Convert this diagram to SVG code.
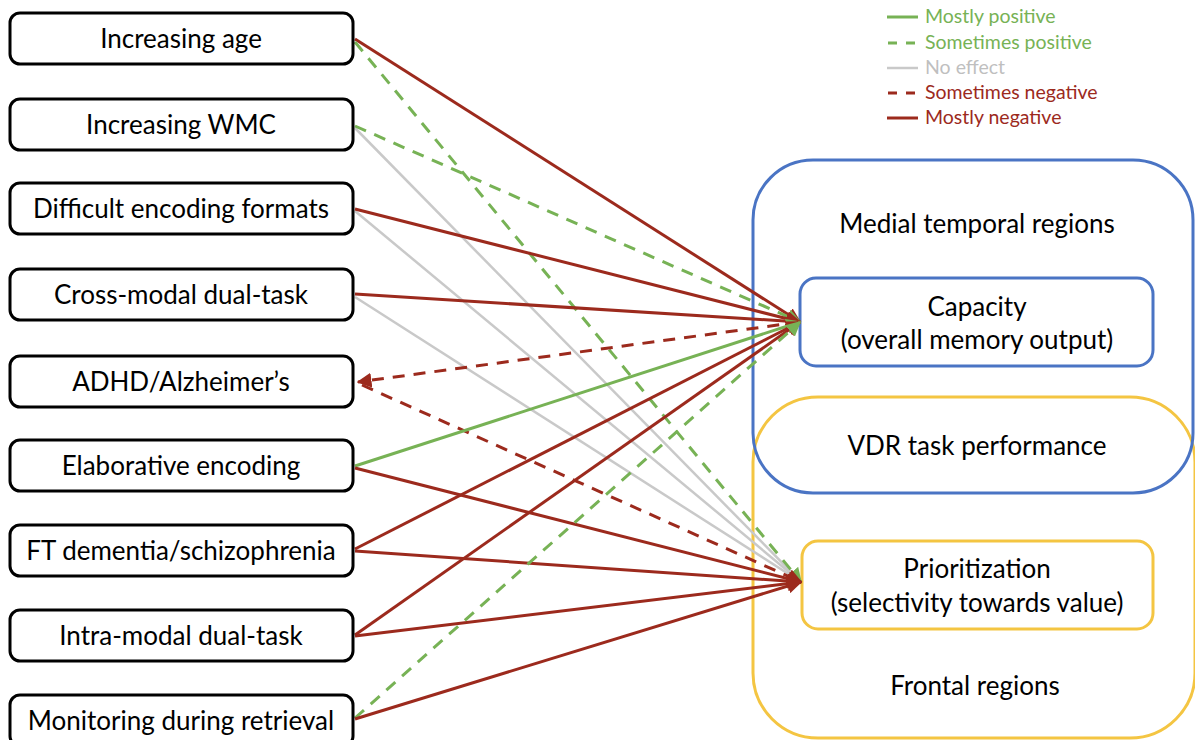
<svg xmlns="http://www.w3.org/2000/svg" width="1195" height="740" viewBox="0 0 1195 740">
<defs>
<style>
.box{fill:#fff;stroke:#000;stroke-width:3}
.t{font-family:Lato,"Open Sans","Liberation Sans",sans-serif;font-size:26px;fill:#000;text-anchor:middle}
.lg{font-family:Lato,"Open Sans","Liberation Sans",sans-serif;font-size:19.5px}
.red{stroke:#9C2A1D;stroke-width:3;fill:none}
.grn{stroke:#77B255;stroke-width:3;fill:none}
.gry{stroke:#C9C9C9;stroke-width:2.5;fill:none}
.dash{stroke-dasharray:12 9}
</style>
<marker id="ar" viewBox="0 0 10 10" refX="9" refY="5" markerWidth="5" markerHeight="5" orient="auto" markerUnits="strokeWidth"><path d="M0,0L10,5L0,10z" fill="#9C2A1D"/></marker>
<marker id="ag" viewBox="0 0 10 10" refX="9" refY="5" markerWidth="5" markerHeight="5" orient="auto" markerUnits="strokeWidth"><path d="M0,0L10,5L0,10z" fill="#77B255"/></marker>
<marker id="ay" viewBox="0 0 10 10" refX="9" refY="5" markerWidth="5" markerHeight="5" orient="auto" markerUnits="strokeWidth"><path d="M0,0L10,5L0,10z" fill="#C9C9C9"/></marker>
</defs>
<rect width="1195" height="740" fill="#fff"/>

<g id="legend">
<line x1="887" y1="17" x2="918" y2="17" class="grn" stroke-width="2"/>
<text x="925" y="23" class="lg" fill="#77B255">Mostly positive</text>
<line x1="888" y1="43" x2="916" y2="43" class="grn" stroke-width="2" stroke-dasharray="9 9"/>
<text x="925" y="49" class="lg" fill="#77B255">Sometimes positive</text>
<line x1="887" y1="68" x2="918" y2="68" class="gry" stroke-width="2"/>
<text x="925" y="74" class="lg" fill="#BFBFBF">No effect</text>
<line x1="888" y1="93" x2="916" y2="93" class="red" stroke-width="2" stroke-dasharray="9 9"/>
<text x="925" y="99" class="lg" fill="#9C2A1D">Sometimes negative</text>
<line x1="887" y1="118" x2="918" y2="118" class="red" stroke-width="2"/>
<text x="925" y="124" class="lg" fill="#9C2A1D">Mostly negative</text>
</g>

<g id="vdr">
<rect x="753" y="397" width="442" height="341" rx="65" fill="none" stroke="#F4C542" stroke-width="3"/>
<rect x="753" y="160" width="440" height="333" rx="60" fill="none" stroke="#4A74C4" stroke-width="3"/>
<text x="977" y="233" class="t">Medial temporal regions</text>
<text x="977" y="455" class="t">VDR task performance</text>
<text x="975" y="695" class="t">Frontal regions</text>
</g>

<g id="capacity">
<rect x="800" y="278" width="353" height="88" rx="16" fill="#fff" stroke="#4A74C4" stroke-width="3"/>
<text x="977" y="316" class="t">Capacity</text>
<text x="977" y="349" class="t">(overall memory output)</text>
</g>

<g id="prioritization">
<rect x="802" y="541" width="351" height="88" rx="16" fill="#fff" stroke="#F4C542" stroke-width="3"/>
<text x="977" y="578" class="t">Prioritization</text>
<text x="977" y="612" class="t">(selectivity towards value)</text>
</g>

<g id="connectors">
<line x1="355" y1="128" x2="801" y2="582" class="gry" marker-end="url(#ay)"/>
<line x1="355" y1="211" x2="801" y2="582" class="gry" marker-end="url(#ay)"/>
<line x1="355" y1="297" x2="801" y2="582" class="gry" marker-end="url(#ay)"/>
<line x1="355" y1="39" x2="800" y2="322" class="red" marker-end="url(#ar)"/>
<line x1="355" y1="42" x2="801" y2="582" class="grn dash" marker-end="url(#ag)"/>
<line x1="355" y1="126" x2="800" y2="322" class="grn dash" marker-end="url(#ag)"/>
<line x1="355" y1="209" x2="800" y2="322" class="red" marker-end="url(#ar)"/>
<line x1="355" y1="294" x2="800" y2="322" class="red" marker-end="url(#ar)"/>
<line x1="800" y1="322" x2="358" y2="382" class="red dash" marker-end="url(#ar)"/>
<line x1="362" y1="385" x2="801" y2="582" class="red dash" marker-end="url(#ar)"/>
<line x1="355" y1="466" x2="800" y2="322" class="grn" marker-end="url(#ag)"/>
<line x1="355" y1="468" x2="801" y2="582" class="red" marker-end="url(#ar)"/>
<line x1="355" y1="549" x2="800" y2="322" class="red" marker-end="url(#ar)"/>
<line x1="355" y1="551" x2="801" y2="582" class="red" marker-end="url(#ar)"/>
<line x1="355" y1="635" x2="800" y2="322" class="red" marker-end="url(#ar)"/>
<line x1="355" y1="636" x2="801" y2="582" class="red" marker-end="url(#ar)"/>
<line x1="355" y1="718" x2="800" y2="322" class="grn dash" marker-end="url(#ag)"/>
<line x1="355" y1="719" x2="801" y2="582" class="red" marker-end="url(#ar)"/>
</g>

<g id="n1"><rect x="10" y="13" width="343" height="51" rx="10" class="box"/><text x="181" y="48" class="t">Increasing age</text></g>
<g id="n2"><rect x="10" y="99" width="343" height="51" rx="10" class="box"/><text x="181" y="134" class="t">Increasing WMC</text></g>
<g id="n3"><rect x="10" y="183" width="343" height="51" rx="10" class="box"/><text x="181" y="218" class="t">Difficult encoding formats</text></g>
<g id="n4"><rect x="10" y="269" width="343" height="51" rx="10" class="box"/><text x="181" y="304" class="t">Cross-modal dual-task</text></g>
<g id="n5"><rect x="10" y="356" width="343" height="51" rx="10" class="box"/><text x="181" y="391" class="t">ADHD/Alzheimer’s</text></g>
<g id="n6"><rect x="10" y="440" width="343" height="51" rx="10" class="box"/><text x="181" y="475" class="t">Elaborative encoding</text></g>
<g id="n7"><rect x="10" y="525" width="343" height="51" rx="10" class="box"/><text x="181" y="560" class="t">FT dementia/schizophrenia</text></g>
<g id="n8"><rect x="10" y="610" width="343" height="51" rx="10" class="box"/><text x="181" y="645" class="t">Intra-modal dual-task</text></g>
<g id="n9"><rect x="10" y="695" width="343" height="51" rx="10" class="box"/><text x="181" y="730" class="t">Monitoring during retrieval</text></g>
</svg>
